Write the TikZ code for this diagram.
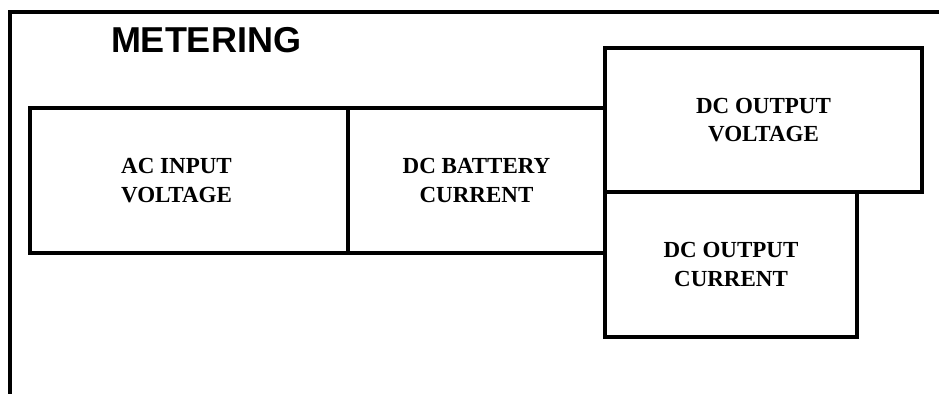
\documentclass[tikz,border=0pt]{standalone}
\usepackage{fontspec}
\setmainfont{Liberation Serif}
\newfontfamily\headfont{Liberation Sans}
\usepackage{tikz}
\usetikzlibrary{positioning}
\tikzstyle{meter} = [rectangle, draw=black, line width=3.5pt, inner sep=0pt, outer sep=0pt, align=center, font=\fontsize{23}{28.5}\selectfont\bfseries]
\tikzstyle{frame} = [line width=4pt]

\begin{document}
\begin{tikzpicture}[x=1pt, y=-1pt]
    \useasboundingbox (0,0) rectangle (939,394);
    % Frame and title
    \coordinate (frametop) at (939,12);
    \coordinate (framecorner) at (10,12);
    \coordinate (framebot) at (10,394);
    \draw [frame] (frametop) -- (framecorner) -- (framebot);
    \node (title) at (206,40) {\headfont\bfseries\fontsize{36}{40}\selectfont METERING};

    % Define blocks
    \node (acin) [meter, minimum width=318pt, minimum height=145pt, anchor=north west] at (30,108) {AC INPUT\hspace*{25pt}\\VOLTAGE\hspace*{25pt}};
    \node (dcbat) [meter, minimum width=257pt, minimum height=145pt, right=0pt of acin] {DC BATTERY\\CURRENT};
    \node (dcvolt) [meter, minimum width=317pt, minimum height=144pt, anchor=north west] at (605,48) {DC OUTPUT\\VOLTAGE};
    \node (dccurr) [meter, minimum width=252pt, minimum height=145pt, below=0pt of dcvolt.south west, anchor=north west] {DC OUTPUT\\CURRENT};
\end{tikzpicture}
\end{document}
